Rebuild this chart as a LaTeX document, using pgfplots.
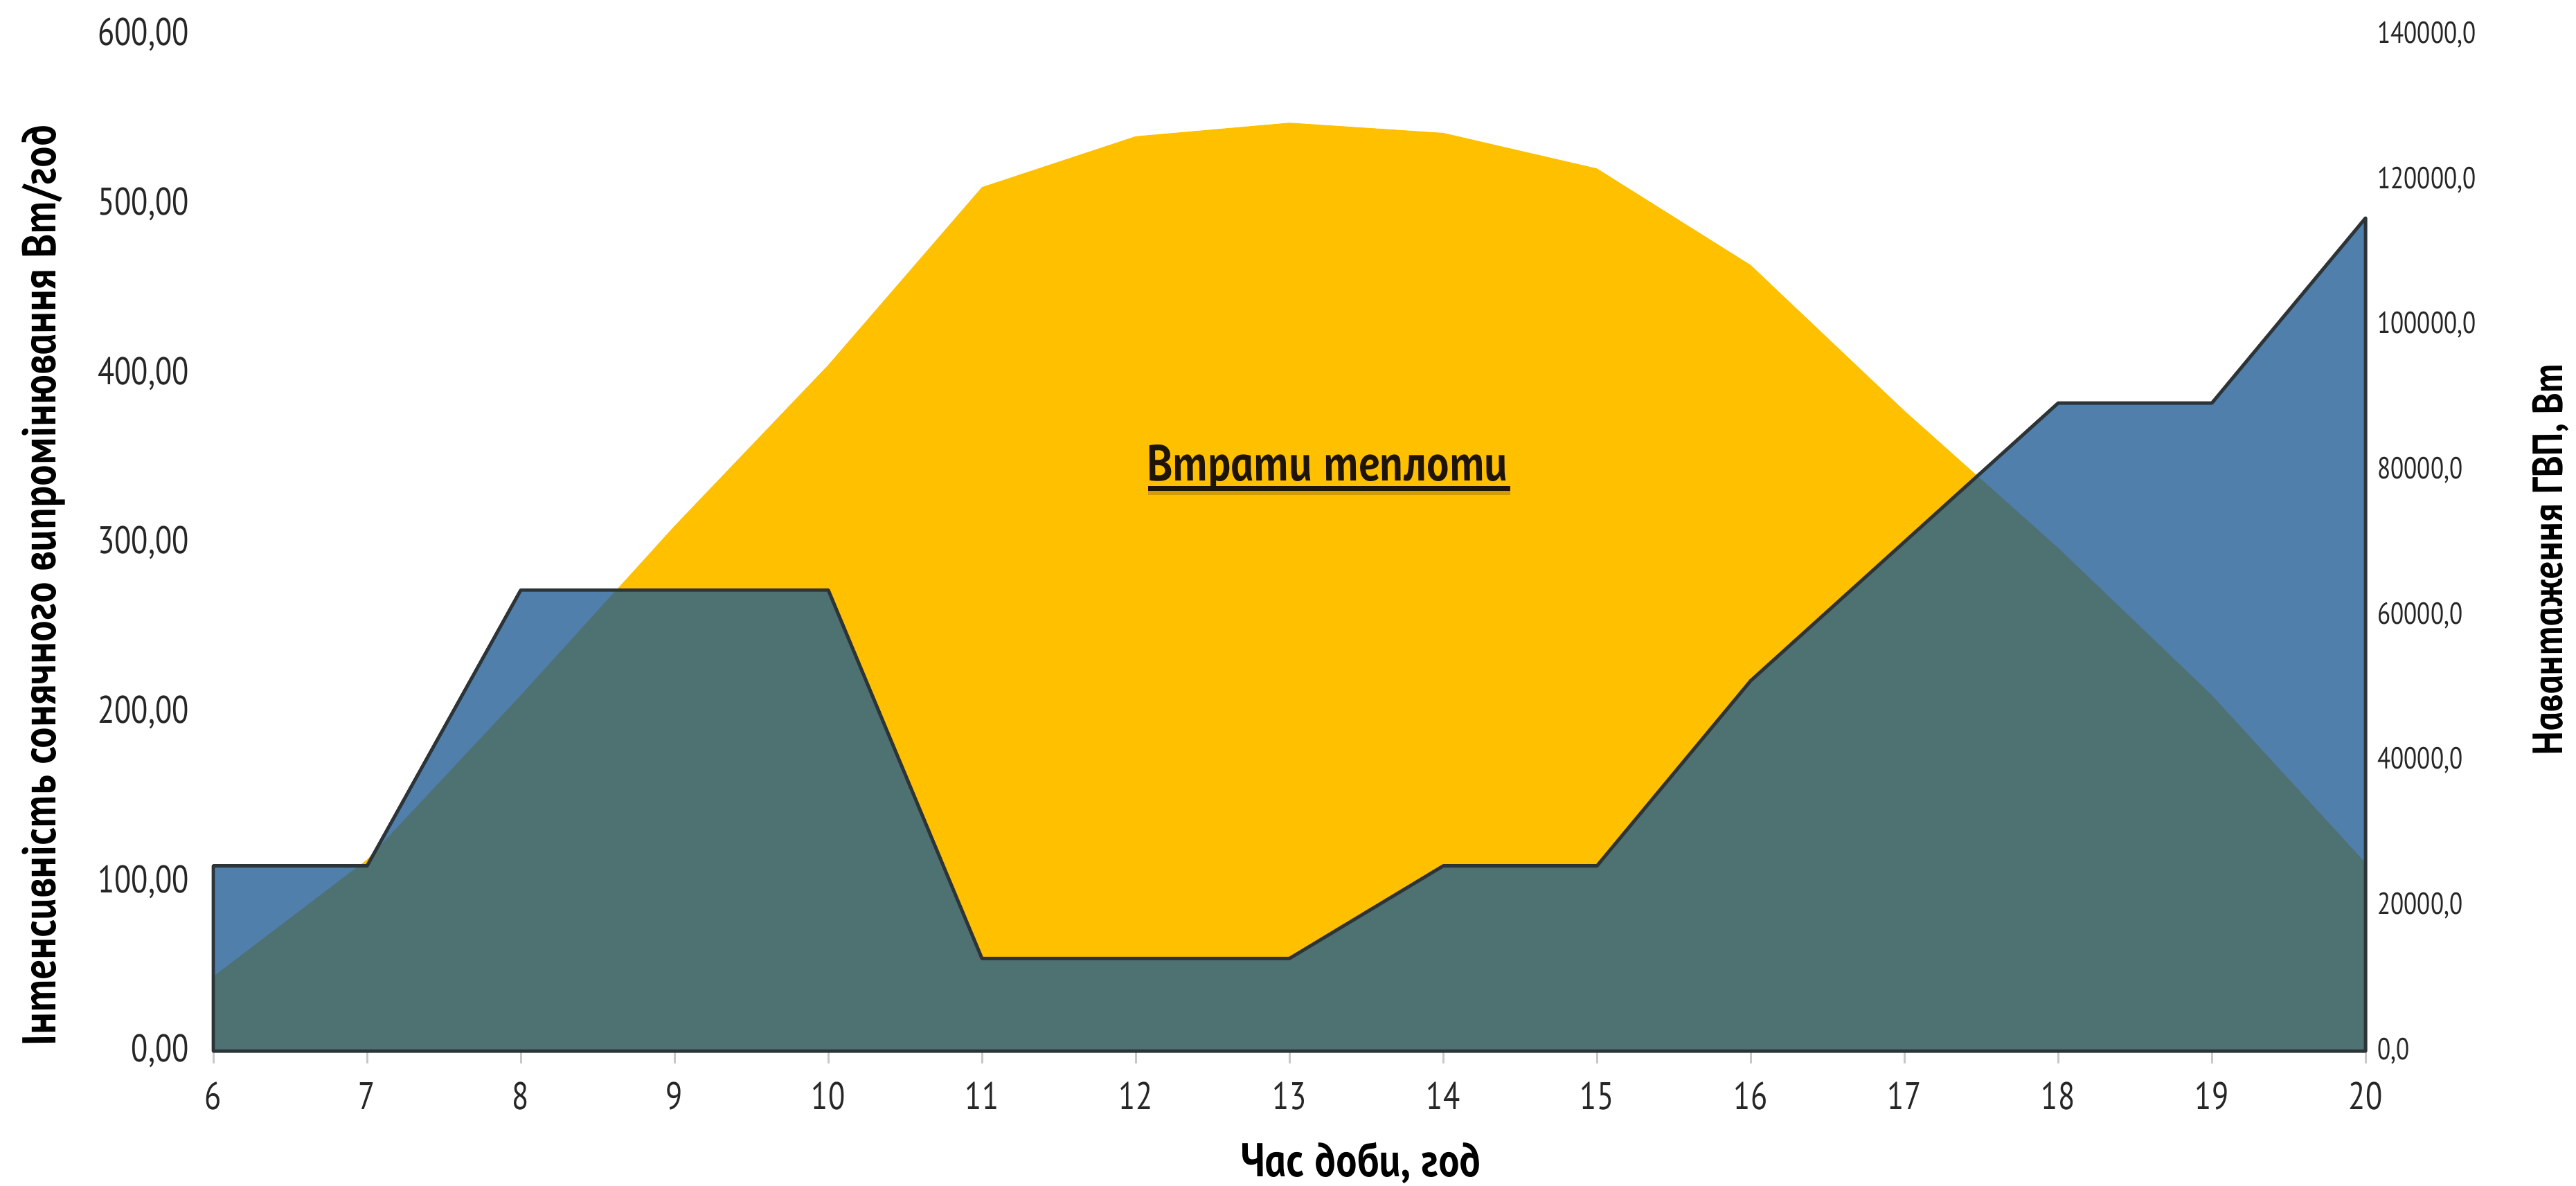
\documentclass[border=0pt]{standalone}
\usepackage{fontspec}
\setmainfont{PT Sans}[FakeStretch=0.8]
\newfontfamily\gost{PT Sans}[FakeStretch=0.9,
  ItalicFeatures={FakeSlant=-0.2},
  BoldItalicFeatures={FakeSlant=-0.2}]
\usepackage{pgfplots}
\pgfplotsset{compat=1.18}

\definecolor{sun}{RGB}{255,192,0}
\definecolor{load}{RGB}{29,91,146}
\definecolor{edge}{RGB}{45,52,56}
\definecolor{tickgray}{RGB}{200,200,200}
\definecolor{labelgray}{RGB}{38,38,38}
\definecolor{annot}{RGB}{30,20,10}

% solar irradiance, W/h (left axis)
\pgfplotstableread{
hour irr
6  44
7  113
8  210
9  310
10 405
11 510
12 540
13 548
14 542
15 521
16 464
17 378
18 297
19 210
20 111
}\irradiance

% hot-water load, W (right axis)
\pgfplotstableread{
hour load
6  25500
7  25500
8  63500
9  63500
10 63500
11 12750
12 12750
13 12750
14 25500
15 25500
16 51000
17 70125
18 89250
19 89250
20 114750
}\gvpload

\pgfplotsset{
  base/.style={
    at={(0,0)}, anchor=south west,
    scale only axis, width=22.378cm, height=10.57cm,
    xmin=6, xmax=20,
    /pgf/number format/assume math mode=true,
  },
}

\begin{document}
\begin{tikzpicture}
\useasboundingbox (-2.218,-1.397) rectangle (24.566,10.93);

\begin{axis}[base,
  ymin=0, ymax=600,
  ytick={0,100,200,300,400,500,600},
  xtick={6,7,...,20},
  axis x line*=bottom, axis y line*=left,
  y axis line style={draw=none},
  x axis line style={draw=tickgray, line width=0.8pt, -},
  tick align=outside, major tick length=0.13cm,
  xtick style={draw=tickgray, line width=0.6pt},
  ytick style={draw=none},
  tick label style={font=\fontsize{11.4}{13}\selectfont, text=labelgray},
  xticklabel style={yshift=-0.07cm},
  yticklabel style={/pgf/number format/.cd, fixed, fixed zerofill, precision=2, use comma},
]
\addplot[fill=sun, draw=none] table[x=hour, y=irr]{\irradiance} \closedcycle;
\node[font=\gost\bfseries\itshape\fontsize{15}{17}\selectfont, inner sep=0pt,
      text=annot, anchor=base] (lbl) at (axis cs:13.26,336.6) {Втрати теплоти};
\draw[black, opacity=0.18, line width=2.6pt] ([yshift=-2.9pt]lbl.base west) -- ([yshift=-2.9pt]lbl.base east);
\draw[annot, line width=1.5pt] ([yshift=-2.3pt]lbl.base west) -- ([yshift=-2.3pt]lbl.base east);
\end{axis}

\begin{axis}[base,
  ymin=0, ymax=140000,
  ytick={0,20000,40000,60000,80000,100000,120000,140000},
  scaled y ticks=false,
  axis y line*=right, axis x line=none,
  y axis line style={draw=none},
  ytick style={draw=none},
  clip=false,
  tick label style={font=\fontsize{9}{11}\selectfont, text=labelgray},
  yticklabel style={/pgf/number format/.cd, fixed, fixed zerofill, precision=1, use comma, 1000 sep={}},
]
\addplot[fill=load, fill opacity=0.78, draw=edge, line width=1pt, line join=round]
  table[x=hour, y=load]{\gvpload} \closedcycle;
\end{axis}

% axis titles
\node[rotate=90, font=\gost\bfseries\itshape\fontsize{14}{16}\selectfont, text=black]
  at (-1.767,4.86) {Інтенсивність сонячного випромінювання Вт/год};
\node[font=\gost\bfseries\itshape\fontsize{14}{16}\selectfont, text=black]
  at (11.95,-1.166) {Час доби, год};
\node[rotate=90, font=\gost\bfseries\itshape\fontsize{12.5}{14}\selectfont, text=black]
  at (24.3,5.13) {Навантаження ГВП, Вт};
\end{tikzpicture}
\end{document}
